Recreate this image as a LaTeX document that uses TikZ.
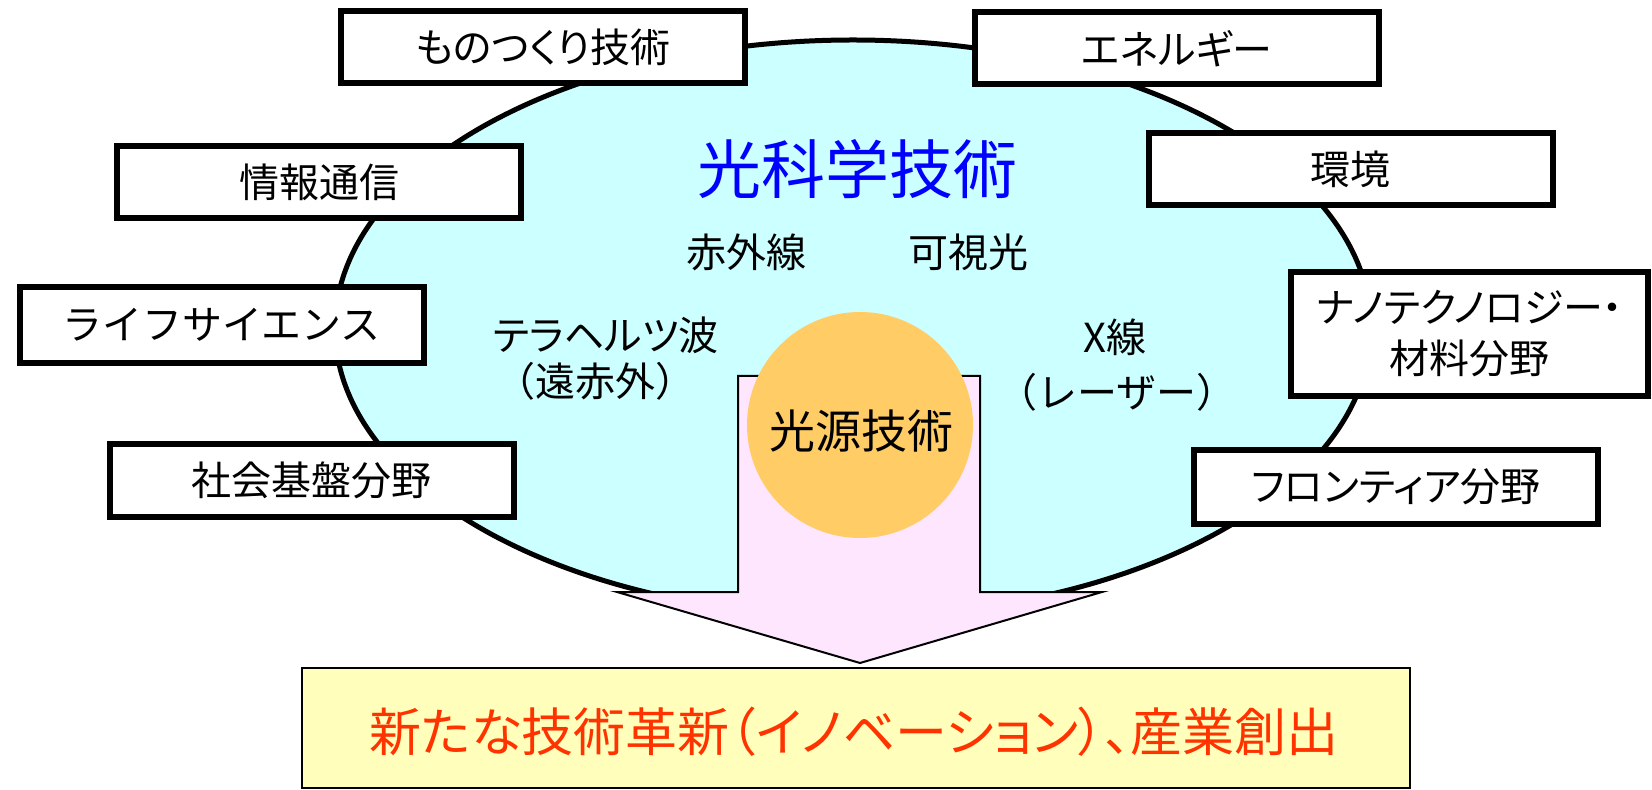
\documentclass[tikz,border=0pt]{standalone}
\usepackage{fontspec}
\newfontfamily\jp{Noto Sans CJK JP}[RawFeature=+palt]
\newfontfamily\jpf{Noto Sans CJK JP}
\definecolor{skyc}{HTML}{CCFFFF}
\definecolor{pinkc}{HTML}{FFE6FF}
\definecolor{orangec}{HTML}{FFCC66}
\definecolor{yellowc}{HTML}{FFFFBB}
\definecolor{redc}{HTML}{FF3300}
\definecolor{bluec}{HTML}{0000FF}
\tikzset{
  fieldbox/.style={draw, line width=3pt, fill=white, inner sep=0pt,
    minimum width=202pt, minimum height=36pt, align=center,
    font=\jp\fontsize{20}{25.5}\selectfont},
  lbl/.style={inner sep=0pt, align=center, font=\jp\fontsize{20}{24}\selectfont},
}
\begin{document}
\begin{tikzpicture}[x=0.5pt, y=-0.5pt]
\useasboundingbox (0,0) rectangle (1652,790);
% main ellipse
\draw[line width=2.5pt, fill=skyc] (853,328) ellipse [x radius=259pt, y radius=144pt];
% surrounding boxes
\node[fieldbox] (mono) at (543,47.5) {ものつくり技術};
\node[fieldbox] (ene) at (1177,48.5) {エネルギー};
\node[fieldbox] (info) at (319,182.5) {情報通信};
\node[fieldbox] (env) at (1350.5,169.5) {環境};
\node[fieldbox, minimum height=38pt, font=\jpf\fontsize{20}{25.5}\selectfont] (life) at (221.5,325) {ライフサイエンス};
\node[fieldbox, minimum width=178.5pt, minimum height=62pt] (nano) at (1469.5,334) {ナノテクノロジー・\\材料分野};
\node[fieldbox] (social) at (311.5,480.5) {社会基盤分野};
\node[fieldbox, minimum height=37pt] (front) at (1396,487) {フロンティア分野};
% arrow
\draw[line width=1pt, fill=pinkc, line join=miter]
  (738,376) -- (980,376) -- (980,592) -- (1102,592) -- (860,663)
  -- (617,592) -- (738,592) -- cycle;
% light-source circle
\node[circle, fill=orangec, minimum size=113pt, inner sep=0pt] (src) at (860,425) {};
\node[lbl, font=\jp\fontsize{23}{27}\selectfont] (srct) at (861,431) {光源技術};
% labels in ellipse
\node[lbl, text=bluec, font=\jp\fontsize{32}{36}\selectfont] (title) at (857,169) {光科学技術};
\node[lbl] (ir) at (746,252) {赤外線};
\node[lbl] (vis) at (968,252) {可視光};
\node[lbl] (thz) at (606,335) {テラヘルツ波};
\node[lbl, font=\jpf\fontsize{20}{24}\selectfont] (fir) at (595,381) {（遠赤外）};
\node[lbl] (xr) at (1115,337) {X線};
\node[lbl, font=\jpf\fontsize{20}{24}\selectfont] (laser) at (1117,392) {（レーザー）};
% result box
\node[draw, line width=1pt, fill=yellowc, minimum width=554pt, minimum height=60pt, inner sep=0pt] (res) at (856,728) {};
\node[lbl, text=redc, font=\jp\fontsize{26}{30}\selectfont] (rest) at (854,732) {新たな技術革新（イノベーション）、産業創出};
\end{tikzpicture}
\end{document}
